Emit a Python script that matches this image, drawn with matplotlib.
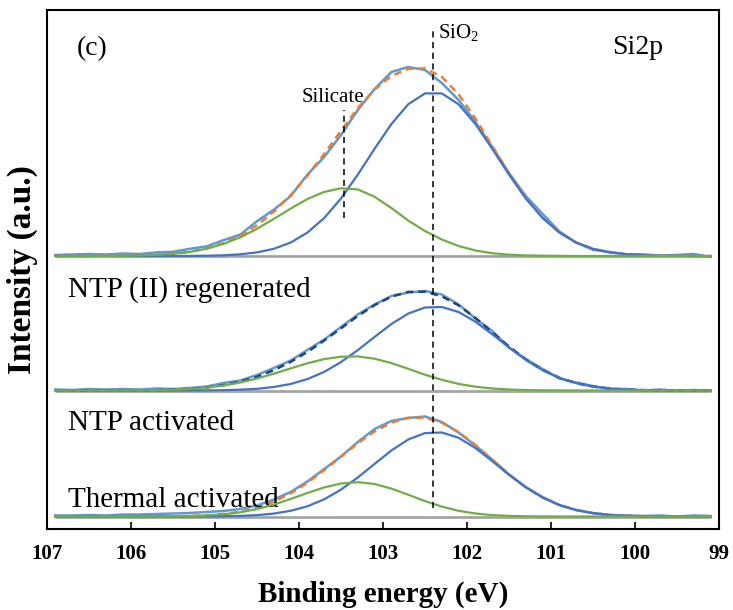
import matplotlib
matplotlib.use("Agg")
import matplotlib.pyplot as plt

plt.rcParams["font.family"] = ["Liberation Serif", "DejaVu Serif"]
plt.rcParams["mathtext.fontset"] = "custom"
plt.rcParams["mathtext.rm"] = "Liberation Serif"

energy = [106.9, 106.7, 106.5, 106.3, 106.1, 105.9, 105.7, 105.5, 105.3, 105.1,
          104.9, 104.7, 104.5, 104.3, 104.1, 103.9, 103.7, 103.5, 103.3, 103.1,
          102.9, 102.7, 102.5, 102.3, 102.1, 101.9, 101.7, 101.5, 101.3, 101.1,
          100.9, 100.7, 100.5, 100.3, 100.1, 99.9, 99.7, 99.5, 99.3, 99.1]

# NTP (II) regenerated (top)
regen_raw = [1, 1.5, 2, 1.5, 2.5, 2, 3.6, 4.2, 7.2, 9.6,
             15.8, 21.4, 34.8, 46.3, 59.8, 81.4, 99, 121, 146, 167,
             184, 189, 186, 173, 156, 134, 109, 83, 60, 42,
             24.5, 13.4, 6.2, 4, 1.7, 1.7, 0.3, 1.1, 2, -1]
regen_fit = [0, 0, 0, 0.1, 0.2, 0.5, 1.1, 2.2, 4.2, 7.6,
             12.8, 20.4, 30.8, 44.3, 60.8, 80.4, 102.1, 125.2, 148, 166.5,
             180, 187.2, 187.6, 179.1, 161.7, 137.5, 110.1, 82.7, 58.1, 38.3,
             23.5, 13.4, 7.2, 3.6, 1.7, 0.7, 0.3, 0.1, 0, 0]
regen_sio2 = [0, 0, 0, 0, 0, 0, 0, 0, 0.1, 0.3,
              0.7, 1.7, 3.6, 7.2, 13.4, 23.4, 38, 57.5, 81.4, 107.3,
              132, 151.7, 162.6, 162.6, 151.7, 132, 107.3, 81.4, 57.5, 38,
              23.4, 13.4, 7.2, 3.6, 1.7, 0.7, 0.3, 0.1, 0, 0]
regen_silicate = [0, 0, 0, 0.1, 0.2, 0.5, 1.1, 2.2, 4.1, 7.3,
                  12.1, 18.7, 27.2, 37.1, 47.4, 57, 64.1, 67.7, 66.6, 59.2,
                  48, 35.5, 25, 16.5, 10, 5.5, 2.8, 1.3, 0.6, 0.3,
                  0.1, 0, 0, 0, 0, 0, 0, 0, 0, 0]

# NTP activated (middle)
ntp_raw = [1, 0.5, 1.5, 1, 1.5, 1, 2, 1.5, 2.5, 4,
           7.5, 10, 15.5, 22.5, 30, 40.5, 51, 63.5, 76, 86,
           94.5, 98, 99.5, 96, 86, 72, 59.5, 43, 31.5, 21.5,
           12, 8, 4.5, 1.5, 1.5, 0, 1, -0.5, 0.5, 0]
ntp_fit = [0, 0, 0, 0, 0.1, 0.2, 0.4, 0.8, 1.7, 3.0,
           5.3, 8.8, 13.7, 20.3, 28.6, 38.6, 50.0, 62.2, 74.5, 85.4,
           93.9, 98.6, 98.8, 94.2, 85.1, 72.6, 58.3, 44.0, 31.0, 20.5,
           12.7, 7.3, 3.9, 2.0, 0.9, 0.4, 0.2, 0.1, 0, 0]
ntp_sio2 = [0, 0, 0, 0, 0, 0, 0, 0, 0.1, 0.1,
            0.3, 0.8, 1.7, 3.5, 6.5, 11.4, 18.6, 28.4, 40.4, 53.6,
            66.5, 76.9, 83, 83.5, 78.5, 68.8, 56.3, 43, 30.6, 20.3,
            12.6, 7.3, 3.9, 2.0, 0.9, 0.4, 0.2, 0.1, 0, 0]
ntp_silicate = [0, 0, 0, 0, 0.1, 0.2, 0.4, 0.8, 1.6, 2.9,
                5.0, 8.0, 12.0, 16.8, 22.1, 27.2, 31.4, 33.8, 34.1, 31.8,
                27.4, 21.7, 15.8, 10.7, 6.6, 3.8, 2.0, 1.0, 0.4, 0.2,
                0.1, 0, 0, 0, 0, 0, 0, 0, 0, 0]

# Thermal activated (bottom)
thermal_raw = [1, 1, 1.5, 1, 2, 2, 2.5, 3, 3.5, 4.5,
               5.5, 7.5, 11, 17, 24.5, 35, 47.5, 60, 74.5, 87.5,
               95.5, 98.5, 100, 94.5, 84, 71, 57, 42, 29.5, 19.5,
               11.5, 6.5, 3.5, 1.5, 1, 0.5, 1, 0, 1, 0.5]
thermal_fit = [0, 0, 0, 0, 0, 0, 0.1, 0.2, 0.5, 1.2,
               2.5, 4.8, 8.8, 14.8, 23.2, 33.7, 46.3, 59.9, 73.3, 85.1,
               93.9, 98.8, 98.8, 93.9, 84.4, 71.5, 56.8, 42.3, 29.3, 19.0,
               11.4, 6.4, 3.3, 1.6, 0.7, 0.3, 0.1, 0, 0, 0]
thermal_sio2 = [0, 0, 0, 0, 0, 0, 0, 0, 0, 0.1,
                0.3, 0.6, 1.4, 2.9, 5.7, 10.2, 17.2, 26.9, 39, 52.6,
                66, 77, 83.4, 84, 78.7, 68.5, 55.4, 41.7, 29.1, 18.9,
                11.4, 6.4, 3.3, 1.6, 0.7, 0.3, 0.1, 0, 0, 0]
thermal_silicate = [0, 0, 0, 0, 0, 0, 0.1, 0.2, 0.5, 1.1,
                    2.2, 4.2, 7.4, 11.9, 17.5, 23.5, 29.1, 33, 34.3, 32.5,
                    27.9, 21.8, 15.4, 9.9, 5.7, 3.0, 1.4, 0.6, 0.2, 0.1,
                    0, 0, 0, 0, 0, 0, 0, 0, 0, 0]

sio2_position = 102.4
silicate_position = 103.47
x_ticks = [107, 106, 105, 104, 103, 102, 101, 100, 99]

RAW = "#5B9BD5"
SIO2 = "#4472C4"
SILICATE = "#70AD47"
BASE = "#A5A5A5"

spectra = [
    (thermal_raw, thermal_fit, thermal_sio2, thermal_silicate, 12.5, "#ED7D31"),
    (ntp_raw, ntp_fit, ntp_sio2, ntp_silicate, 138.5, "#264478"),
    (regen_raw, regen_fit, regen_sio2, regen_silicate, 273, "#ED7D31"),
]

fig = plt.figure(figsize=(7.33, 6.10), dpi=100)
ax = fig.add_axes([47 / 733, 81 / 610, 672 / 733, 519 / 610])

for raw, fit, sio2, sil, off, fit_color in spectra:
    ax.hlines(off, energy[0], energy[-1], color=BASE, lw=2.0, zorder=1)
    ax.plot(energy, [v + off for v in raw], color=RAW, lw=1.8, zorder=2)
    ax.plot(energy, [v + off for v in fit], color=fit_color, lw=1.8,
            ls=(0, (3, 2)), zorder=3)
    ax.plot(energy, [v + off for v in sio2], color=SIO2, lw=1.6, zorder=4)
    ax.plot(energy, [v + off for v in sil], color=SILICATE, lw=1.6, zorder=4)

ax.vlines(sio2_position, 21, 501, colors="black", lw=1.1,
          linestyles=(0, (4, 3)), zorder=5)
ax.vlines(silicate_position, 311, 419, colors="black", lw=1.1,
          linestyles=(0, (4, 3)), zorder=5)

ax.text(106.64, 480, "(c)", fontsize=20, ha="left", va="center")
ax.text(100.27, 481, "Si2p", fontsize=20, ha="left", va="center")
ax.text(103.6, 432, "Silicate", fontsize=15, ha="center", va="center")
ax.text(102.35, 496, r"SiO$_2$", fontsize=15, ha="left", va="center")
ax.text(106.75, 232, "NTP (II) regenerated", fontsize=21, ha="left", va="baseline")
ax.text(106.75, 99, "NTP activated", fontsize=21, ha="left", va="baseline")
ax.text(106.75, 22, "Thermal activated", fontsize=21, ha="left", va="baseline")

ax.set_xlim(107, 99)
ax.set_ylim(0, 519)
ax.set_xticks(x_ticks)
ax.set_xticklabels([str(t) for t in x_ticks], fontsize=15, fontweight="bold")
ax.set_yticks([])
ax.tick_params(axis="x", direction="in", length=5, width=1.2, pad=11)
for s in ax.spines.values():
    s.set_linewidth(1.5)

ax.set_xlabel("Binding energy (eV)", fontsize=21, fontweight="bold", labelpad=12)
ax.set_ylabel("Intensity (a.u.)", fontsize=24, fontweight="bold")
ax.yaxis.set_label_coords(-0.013, 0.5)

fig.savefig("out.png", dpi=100)
plt.close(fig)
